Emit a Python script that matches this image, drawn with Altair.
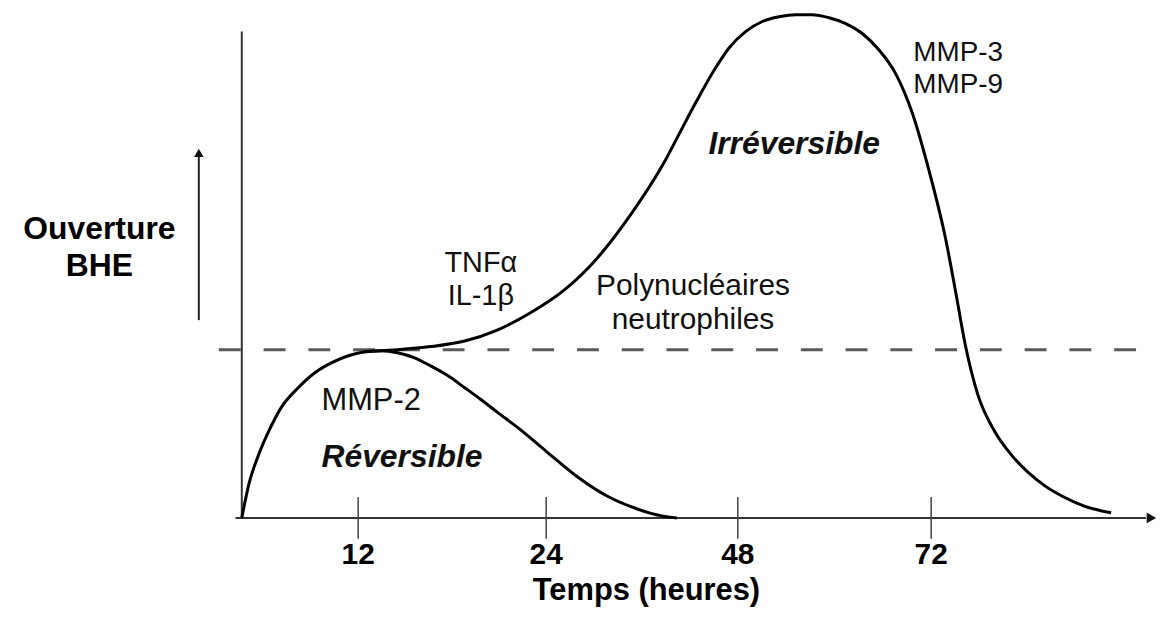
import altair as alt
import pandas as pd

# --- data (x: schematic time position 0-100, y: BBB opening 0-100) ---
rev_x = [0, 0.8, 1.9, 3.0, 4.4, 6.3, 8.2, 10, 11.9, 13.8, 15.6, 17.4, 19.3, 21.1, 23, 24.9, 26.7, 28.6, 30.8, 34, 37.4, 40.8, 44.1, 46.9, 48.6]
rev_y = [0, 6.7, 12.5, 17.0, 21.7, 25.6, 28.6, 30.5, 31.9, 32.7, 32.9, 32.5, 31.5, 29.9, 28.0, 25.6, 23.3, 20.7, 17.8, 13.1, 8.2, 4.3, 1.8, 0.4, 0]

irr_x = [13.6, 15.6, 17.4, 21.1, 24.9, 28.6, 32.2, 36.0, 39.7, 43.3, 47.1, 48.9, 50.8, 52.7, 54.4, 56.3, 58.2, 60.0, 61.9, 63.7, 65.6, 67.4, 69.3, 71.1, 73.0, 74.9, 76.7, 78.6, 79.7, 80.8, 82.2, 84.1, 86.0, 87.8, 89.7, 91.6, 94.1, 97.1]
irr_y = [32.7, 32.9, 33.1, 33.7, 34.8, 37.0, 40.3, 44.8, 51.1, 59.3, 69.7, 75.7, 82.0, 87.9, 92.4, 95.7, 97.7, 98.6, 99.0, 99.0, 98.4, 97.3, 95.3, 92.2, 87.5, 79.6, 68.7, 55.0, 44.8, 34.1, 24.3, 17.0, 12.3, 9.0, 6.3, 4.3, 2.3, 1.0]

threshold = 33.1

tick_pos = [13, 34, 55.4, 77]
tick_labels = ["12", "24", "48", "72"]

notes_regular = ["MMP-3", "MMP-9", "TNFα", "IL-1β", "Polynucléaires", "neutrophiles", "MMP-2"]
notes_regular_x = [75, 75, 26.7, 26.7, 50.4, 50.4, 8.9]
notes_regular_y = [89.8, 83.6, 48.3, 41.9, 43.8, 37.2, 21.3]
notes_regular_align = ["left", "left", "center", "center", "center", "center", "left"]
notes_regular_size = [28, 28, 29, 29, 30, 30, 31]

notes_phase = ["Irréversible", "Réversible"]
notes_phase_x = [61.7, 8.9]
notes_phase_y = [71.6, 10]
notes_phase_align = ["center", "left"]

ylab = ["Ouverture", "BHE"]
ylab_x = [-15.9, -15.9]
ylab_y = [54.8, 47.6]

xtitle = "Temps (heures)"

FONT = "Liberation Sans"

xs = alt.Scale(domain=[0, 100], nice=False, zero=False)
ys = alt.Scale(domain=[0, 100], nice=False, zero=False)


def X(f="x"):
    return alt.X(f"{f}:Q", scale=xs, axis=None)


def Y(f="y"):
    return alt.Y(f"{f}:Q", scale=ys, axis=None)


curves = pd.DataFrame(
    {"x": rev_x + irr_x, "y": rev_y + irr_y,
     "s": ["rev"] * len(rev_x) + ["irr"] * len(irr_x),
     "o": list(range(len(rev_x))) + list(range(len(irr_x)))}
)
curve_layer = alt.Chart(curves).mark_line(color="black", strokeWidth=3, interpolate="monotone").encode(
    x=X(), y=Y(), detail="s:N", order="o:Q"
)

thr = pd.DataFrame({"x": [-2.56], "x2": [101], "y": [threshold]})
thr_layer = alt.Chart(thr).mark_rule(color="#5a5a5a", strokeWidth=3, strokeDash=[22, 23]).encode(
    x=X(), x2="x2:Q", y=Y()
)

axes = pd.DataFrame({"x": [-0.7, 0], "x2": [101.0, 0], "y": [0, 0], "y2": [0, 95.7]})
axes_layer = alt.Chart(axes).mark_rule(color="#333333", strokeWidth=2).encode(
    x=X(), x2="x2:Q", y=Y(), y2="y2:Q"
)

arrow_x_head = alt.Chart(pd.DataFrame({"x": [101.6], "y": [0]})).mark_point(
    shape="triangle-right", filled=True, color="#111111", size=120, opacity=1
).encode(x=X(), y=Y())

up = pd.DataFrame({"x": [-4.8], "x2": [-4.8], "y": [38.9], "y2": [71.0]})
up_layer = alt.Chart(up).mark_rule(color="#222222", strokeWidth=2).encode(
    x=X(), x2="x2:Q", y=Y(), y2="y2:Q"
)
up_head = alt.Chart(pd.DataFrame({"x": [-4.8], "y": [71.8]})).mark_point(
    shape="triangle-up", filled=True, color="#111111", size=90, opacity=1
).encode(x=X(), y=Y())

ticks = pd.DataFrame({"x": tick_pos, "y": [-4.1] * 4, "y2": [4.1] * 4, "label": tick_labels})
tick_layer = alt.Chart(ticks).mark_rule(color="#444444", strokeWidth=1.5).encode(
    x=X(), y=Y(), y2="y2:Q"
)
tick_text = alt.Chart(ticks.assign(ty=-9.0)).mark_text(
    font=FONT, fontSize=30, fontWeight="bold", baseline="alphabetic", align="center", color="black"
).encode(x=X(), y=Y("ty"), text="label:N")

xt = alt.Chart(pd.DataFrame({"x": [45.2], "y": [-16.2], "t": [xtitle]})).mark_text(
    font=FONT, fontSize=31, fontWeight="bold", baseline="alphabetic", align="center", color="black"
).encode(x=X(), y=Y(), text="t:N")

yl = alt.Chart(pd.DataFrame({"x": ylab_x, "y": ylab_y, "t": ylab})).mark_text(
    font=FONT, fontSize=32, fontWeight="bold", baseline="alphabetic", align="center", color="black"
).encode(x=X(), y=Y(), text="t:N")

reg_layers = []
for t, x, y, a, s in zip(notes_regular, notes_regular_x, notes_regular_y, notes_regular_align, notes_regular_size):
    reg_layers.append(
        alt.Chart(pd.DataFrame({"x": [x], "y": [y], "t": [t]})).mark_text(
            font=FONT, fontSize=s, baseline="alphabetic", align=a, color="#111111"
        ).encode(x=X(), y=Y(), text="t:N")
    )

phase_layers = []
for t, x, y, a in zip(notes_phase, notes_phase_x, notes_phase_y, notes_phase_align):
    phase_layers.append(
        alt.Chart(pd.DataFrame({"x": [x], "y": [y], "t": [t]})).mark_text(
            font=FONT, fontSize=32, fontWeight="bold", fontStyle="italic",
            baseline="alphabetic", align=a, color="#111111"
        ).encode(x=X(), y=Y(), text="t:N")
    )

chart = alt.layer(
    thr_layer, axes_layer, arrow_x_head, up_layer, up_head, tick_layer, curve_layer,
    tick_text, xt, yl, *reg_layers, *phase_layers
).properties(
    width=900, height=511,
    padding={"left": 235, "top": 0, "right": 20, "bottom": 91},
    autosize="none",
    background="white",
).configure_view(stroke="transparent", strokeWidth=0)

chart.save("out.html", embed_options={"renderer": "svg", "actions": False})
